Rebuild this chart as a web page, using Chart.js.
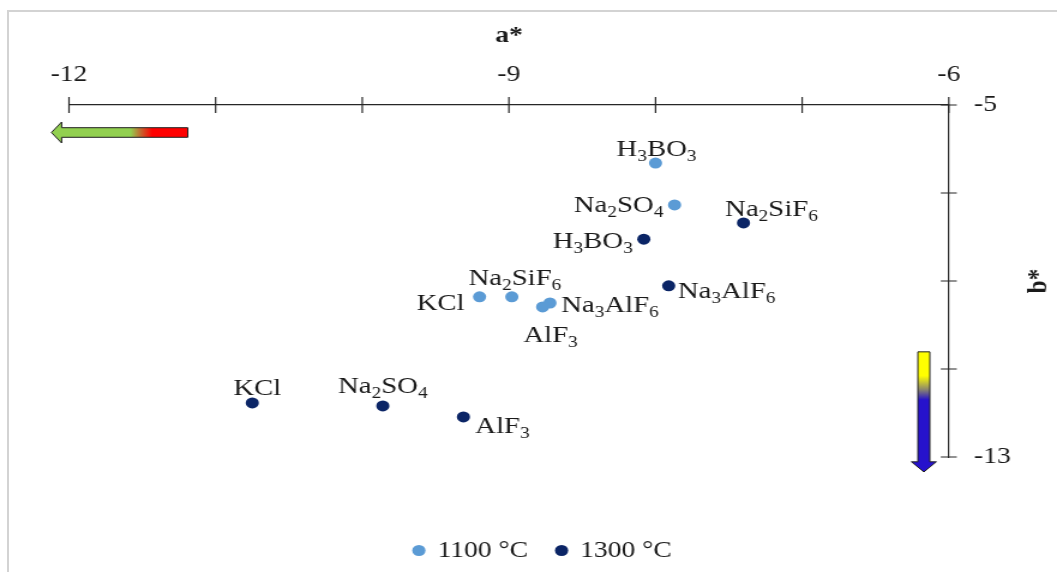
<!DOCTYPE html>
<html lang="en">
<head>
<meta charset="UTF-8">
<title>a* / b*</title>
<script src="https://cdn.jsdelivr.net/npm/chart.js"></script>
<style>
    html, body { margin: 0; padding: 0; background: #fff; overflow: hidden; }
    .frame {
        position: absolute; left: 7px; top: 10px;
        width: 1100px; height: 640px;
        border: 2px solid #d3d3d3;
    }
    #chart { position: absolute; left: 0; top: 0; }
</style>
</head>
<body>
<div class="frame"></div>
<!-- drawn on a narrower canvas, widened by CSS like the original export -->
<canvas id="chart" width="881" height="572" style="width:1057px;height:572px"></canvas>
<script>
// colour coordinates after firing at 1100 °C
const salts1100 = ['H3BO3', 'Na2SO4', 'Na2SiF6', 'KCl', 'Na3AlF6', 'AlF3'];
const a1100 = [-8.00, -7.87, -8.98, -9.20, -8.72, -8.77];
const b1100 = [-6.32, -7.27, -9.36, -9.36, -9.50, -9.59];

// ... and at 1300 °C
const salts1300 = ['Na2SiF6', 'H3BO3', 'Na3AlF6', 'KCl', 'Na2SO4', 'AlF3'];
const a1300 = [-7.40, -8.08, -7.91, -10.75, -9.86, -9.31];
const b1300 = [-7.68, -8.05, -9.11, -11.77, -11.84, -12.09];

const seriesNames = ['1100 °C', '1300 °C'];
const xTickLabels = [-12, -9, -6];
const yTickLabels = [-5, -13];

// label text anchor (centre x, baseline y) relative to its point, screen px
const offsets1100 = [[1, -7], [-56, 7], [3, -12], [-39, 13], [60, 9], [8, 35]];
const offsets1300 = [[28, -7], [-51, 9], [58, 12], [5, -8], [0, -13], [39, 16]];

const SX = 1057 / 881;          // horizontal stretch of the canvas
const FONT = '"Liberation Serif", "Times New Roman", serif';
const INK = '#1a1a1a';

function drawFormula(ctx, text, cx, baseline) {
    const parts = text.match(/[A-Za-z]+|\d+/g);
    const main = '24px ' + FONT, sub = '16px ' + FONT;
    let w = 0;
    parts.forEach(p => { ctx.font = /\d/.test(p) ? sub : main; w += ctx.measureText(p).width; });
    let x = cx - w / 2;
    ctx.textAlign = 'left';
    ctx.textBaseline = 'alphabetic';
    ctx.fillStyle = INK;
    parts.forEach(p => {
        const isSub = /\d/.test(p);
        ctx.font = isSub ? sub : main;
        ctx.fillText(p, x, baseline + (isSub ? 5 : 0));
        x += ctx.measureText(p).width;
    });
}

const pointLabels = {
    id: 'pointLabels',
    afterDatasetsDraw(chart) {
        const ctx = chart.ctx;
        const names = [salts1100, salts1300];
        const offs = [offsets1100, offsets1300];
        ctx.save();
        chart.data.datasets.forEach((ds, d) => {
            chart.getDatasetMeta(d).data.forEach((pt, i) => {
                const [dx, dy] = offs[d][i];
                drawFormula(ctx, names[d][i], pt.x + dx / SX, pt.y + dy);
            });
        });
        ctx.restore();
    }
};

function arrowPath(ctx, pts) {
    ctx.beginPath();
    pts.forEach((p, i) => i ? ctx.lineTo(p[0], p[1]) : ctx.moveTo(p[0], p[1]));
    ctx.closePath();
}

const decorations = {
    id: 'decorations',
    afterDraw(chart) {
        const ctx = chart.ctx;
        const xs = chart.scales.x, ys = chart.scales.y;
        const area = chart.chartArea;
        ctx.save();

        // cross tick marks on both axes
        ctx.strokeStyle = '#262626';
        ctx.lineWidth = 1.2;
        ctx.beginPath();
        for (let v = -12; v <= -6; v += 1) {
            const px = xs.getPixelForValue(v);
            ctx.moveTo(px, area.top - 8);
            ctx.lineTo(px, area.top + 8);
        }
        for (let v = -13; v <= -5; v += 2) {
            const py = ys.getPixelForValue(v);
            ctx.moveTo(area.right - 8 / SX, py);
            ctx.lineTo(area.right + 8 / SX, py);
        }
        ctx.stroke();

        // axis titles
        ctx.fillStyle = INK;
        ctx.font = 'bold 23px ' + FONT;
        ctx.textAlign = 'center';
        ctx.textBaseline = 'alphabetic';
        ctx.fillText('a*', (area.left + area.right) / 2, 42);
        ctx.save();
        ctx.translate(866, (area.top + area.bottom) / 2);
        ctx.rotate(-Math.PI / 2);
        ctx.textBaseline = 'middle';
        ctx.fillText('b*', 0, 0);
        ctx.restore();

        // green -> red arrow pointing to negative a*
        const hy = ys.getPixelForValue(-5.625);
        const tip = xs.getPixelForValue(-12.12);
        const neck = xs.getPixelForValue(-12.05);
        const tail = xs.getPixelForValue(-11.19);
        let g = ctx.createLinearGradient(tip, 0, tail, 0);
        g.addColorStop(0, '#92d050');
        g.addColorStop(0.58, '#92d050');
        g.addColorStop(0.66, '#c8602c');
        g.addColorStop(0.74, '#ff0000');
        g.addColorStop(1, '#ff0000');
        arrowPath(ctx, [[tip, hy], [neck, hy - 10.5], [neck, hy - 4.8], [tail, hy - 4.8],
                        [tail, hy + 4.8], [neck, hy + 4.8], [neck, hy + 10.5]]);
        ctx.fillStyle = g;
        ctx.fill();
        ctx.strokeStyle = '#222';
        ctx.lineWidth = 1;
        ctx.stroke();

        // yellow -> blue arrow pointing to negative b*
        const vx = xs.getPixelForValue(-6.17);
        const top = ys.getPixelForValue(-10.61);
        const base = ys.getPixelForValue(-13.11);
        const point = ys.getPixelForValue(-13.34);
        const bw = 6 / SX, hw = 12.5 / SX;
        g = ctx.createLinearGradient(0, top, 0, point);
        g.addColorStop(0, '#ffff00');
        g.addColorStop(0.2, '#ffff00');
        g.addColorStop(0.31, '#8f8a6a');
        g.addColorStop(0.4, '#2612cc');
        g.addColorStop(1, '#2612cc');
        arrowPath(ctx, [[vx - bw, top], [vx + bw, top], [vx + bw, base], [vx + hw, base],
                        [vx, point], [vx - hw, base], [vx - bw, base]]);
        ctx.fillStyle = g;
        ctx.fill();
        ctx.stroke();

        ctx.restore();
    }
};

const toPoints = (xs, ys) => xs.map((x, i) => ({ x: x, y: ys[i] }));
const tickFont = { family: FONT, size: 23 };

new Chart(document.getElementById('chart'), {
    type: 'scatter',
    data: {
        datasets: [{
            label: seriesNames[0],
            data: toPoints(a1100, b1100),
            backgroundColor: '#5b9bd5',
            borderColor: '#5b9bd5',
            borderWidth: 0,
            pointRadius: 5.5
        }, {
            label: seriesNames[1],
            data: toPoints(a1300, b1300),
            backgroundColor: '#0b2566',
            borderColor: '#0b2566',
            borderWidth: 0,
            pointRadius: 5.5
        }]
    },
    options: {
        responsive: false,
        animation: false,
        layout: { padding: { left: 57.5, right: 33.5, top: 0, bottom: 0 } },
        scales: {
            x: {
                type: 'linear',
                position: 'top',
                min: -12,
                max: -6,
                grid: { display: false, drawTicks: false },
                border: { display: true, color: '#262626', width: 1.2 },
                ticks: {
                    stepSize: 1,
                    autoSkip: false,
                    maxRotation: 0,
                    padding: 16,
                    color: INK,
                    font: tickFont,
                    callback: v => xTickLabels.includes(v) ? String(v) : ''
                },
                afterFit: s => { s.height = 105; }
            },
            y: {
                type: 'linear',
                position: 'right',
                min: -13,
                max: -5,
                grid: { display: false, drawTicks: false },
                border: { display: true, color: '#262626', width: 1.2 },
                ticks: {
                    stepSize: 2,
                    autoSkip: false,
                    padding: 21,
                    color: INK,
                    font: tickFont,
                    callback: v => yTickLabels.includes(v) ? String(v) : ''
                },
                afterFit: s => { s.width = 56.7; }
            }
        },
        plugins: {
            tooltip: { enabled: false },
            legend: {
                position: 'bottom',
                title: { display: true, text: '', padding: { top: 0, bottom: 43.6 } },
                labels: {
                    usePointStyle: true,
                    pointStyle: 'circle',
                    boxHeight: 7.8,
                    boxWidth: 8,
                    padding: 24,
                    color: INK,
                    font: { family: FONT, size: 23 }
                }
            }
        }
    },
    plugins: [pointLabels, decorations]
});
</script>
</body>
</html>
